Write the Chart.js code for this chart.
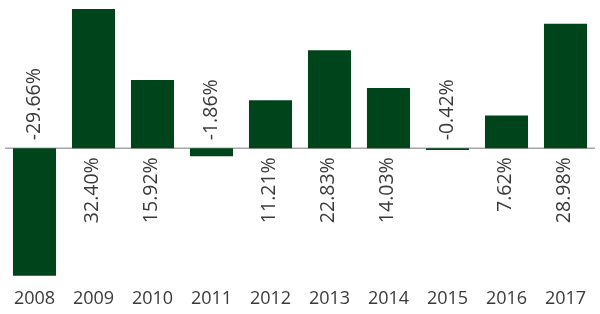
<!DOCTYPE html>
<html>
<head>
<meta charset="utf-8">
<script src="https://cdn.jsdelivr.net/npm/chart.js@4"></script>
<style>
  html, body { margin: 0; padding: 0; background: #fff; }
  #wrap { width: 600px; height: 314px; }
</style>
</head>
<body>
<div id="wrap"><canvas id="chart"></canvas></div>
<script>
// Anos e retornos anuais (%)
const years = ["2008", "2009", "2010", "2011", "2012", "2013", "2014", "2015", "2016", "2017"];
const returns = [-29.66, 32.40, 15.92, -1.86, 11.21, 22.83, 14.03, -0.42, 7.62, 28.98];

const barColor = "#00441b";
const textColor = "#3a3a3a";

// Linha do zero + rótulos verticais
const valueLabels = {
    id: "valueLabels",
    beforeDatasetsDraw(chart) {
        const { ctx, chartArea, scales } = chart;
        const y0 = scales.y.getPixelForValue(0);
        ctx.save();
        ctx.strokeStyle = "#a6a6a6";
        ctx.lineWidth = 1.5;
        ctx.beginPath();
        ctx.moveTo(chartArea.left, y0);
        ctx.lineTo(chartArea.right, y0);
        ctx.stroke();
        ctx.restore();
    },
    afterDatasetsDraw(chart) {
        const { ctx, scales } = chart;
        const y0 = scales.y.getPixelForValue(0);
        const meta = chart.getDatasetMeta(0);
        ctx.save();
        ctx.font = "19.5px 'Open Sans'";
        ctx.fillStyle = textColor;
        ctx.textBaseline = "middle";
        meta.data.forEach((bar, i) => {
            const v = returns[i];
            const txt = v.toFixed(2) + "%";
            ctx.save();
            if (v >= 0) {
                ctx.translate(bar.x - 1, y0 + 9);
                ctx.rotate(-Math.PI / 2);
                ctx.textAlign = "right";
            } else {
                ctx.translate(bar.x, y0 - 8);
                ctx.rotate(-Math.PI / 2);
                ctx.textAlign = "left";
            }
            ctx.fillText(txt, 0, 0);
            ctx.restore();
        });
        ctx.restore();
    }
};

new Chart(document.getElementById("chart").getContext("2d"), {
    type: "bar",
    data: {
        labels: years,
        datasets: [{
            data: returns,
            backgroundColor: barColor,
            borderWidth: 0,
            categoryPercentage: 1,
            barPercentage: 0.73
        }]
    },
    options: {
        responsive: true,
        maintainAspectRatio: false,
        animation: false,
        layout: { padding: { left: 5, right: 5, top: 0, bottom: 0 } },
        plugins: {
            legend: { display: false },
            tooltip: { enabled: false }
        },
        scales: {
            x: {
                grid: { display: false },
                border: { display: false },
                ticks: {
                    color: textColor,
                    font: { family: "'Open Sans'", size: 18 },
                    padding: 4,
                    maxRotation: 0
                },
                afterFit: (scale) => { scale.height = 38; }
            },
            y: {
                display: false,
                min: -29.7,
                max: 34.5
            }
        }
    },
    plugins: [valueLabels]
});
</script>
</body>
</html>
